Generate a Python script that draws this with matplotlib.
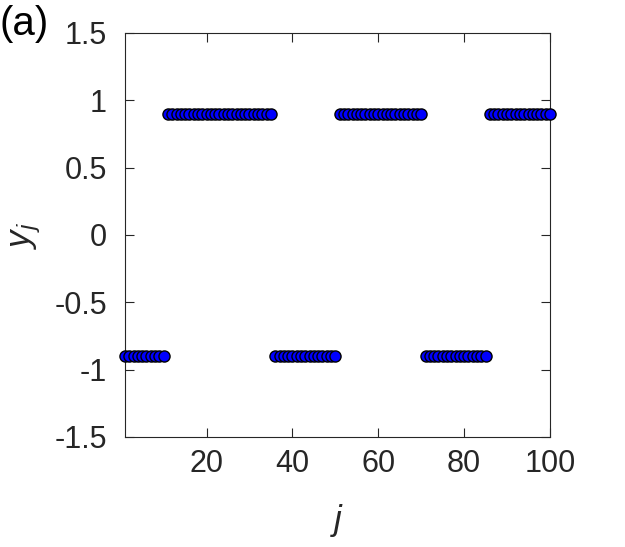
import numpy as np
import matplotlib
matplotlib.use("Agg")
import matplotlib.pyplot as plt

plt.rcParams['font.family'] = ['Liberation Sans', 'DejaVu Sans']
plt.rcParams['mathtext.fontset'] = 'custom'
plt.rcParams['mathtext.it'] = 'Liberation Sans:italic'
plt.rcParams['mathtext.rm'] = 'Liberation Sans'

j = np.arange(1, 101)
segment_ends = [10, 35, 50, 70, 85, 100]
segment_values = [-0.9, 0.9, -0.9, 0.9, -0.9, 0.9]

y = np.empty(len(j))
start = 1
for end, val in zip(segment_ends, segment_values):
    y[(j >= start) & (j <= end)] = val
    start = end + 1

xticks = [20, 40, 60, 80, 100]
yticks = [-1.5, -1, -0.5, 0, 0.5, 1, 1.5]
yticklabels = ['-1.5', '-1', '-0.5', '0', '0.5', '1', '1.5']

fig = plt.figure(figsize=(6.25, 5.47), dpi=100)
ax = fig.add_axes([125/625, 1 - 437/547, 425/625, 404/547])

ax.plot(j, y, 'o', markersize=8, markerfacecolor='#0000ff',
        markeredgecolor='black', markeredgewidth=1.0, linestyle='none',
        clip_on=False, zorder=3)

ax.set_xlim(1, 100)
ax.set_ylim(-1.5, 1.5)
ax.set_xticks(xticks)
ax.set_yticks(yticks)
ax.set_yticklabels(yticklabels)
ax.tick_params(direction='in', length=6.5, width=0.8, labelsize=22,
               colors='#262626', top=True, right=True,
               labeltop=False, labelright=False)
ax.tick_params(axis='y', pad=13)
ax.tick_params(axis='x', pad=9)
for sp in ax.spines.values():
    sp.set_linewidth(0.8)
    sp.set_color('#262626')

ax.set_xlabel('$j$', fontsize=25, color='#262626', labelpad=16)
ax.set_ylabel('$y_j$', fontsize=25, color='#262626', labelpad=8)

fig.text(0, 1 - 35/547, '(a)', fontsize=29, color='black', va='baseline', ha='left')

fig.savefig('out.png', dpi=100)
